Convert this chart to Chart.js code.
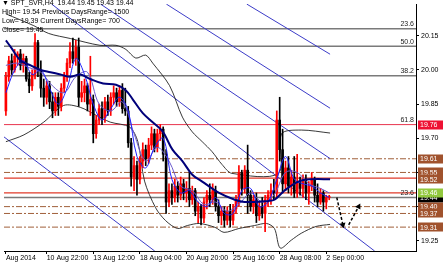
<!DOCTYPE html>
<html><head><meta charset="utf-8">
<script src="https://cdn.jsdelivr.net/npm/chart.js@4.4.0/dist/chart.umd.min.js"></script>
<style>html,body{margin:0;padding:0;background:#fff;}#wrap{width:444px;height:265px;position:relative;}</style>
</head><body><div id="wrap"><canvas id="c"></canvas></div>
<script>
// ---- candle data (H4) ----
const opens  = [19.82,19.97,20.04,20.00,20.06,20.07,20.02,20.05,19.96,19.93,19.98,20.12,20.00,19.92,19.88,19.93,19.86,19.82,19.88,19.84,
19.92,19.97,20.03,20.08,20.05,20.10,19.88,19.90,19.93,19.85,19.87,19.72,19.78,19.83,19.79,19.86,19.82,19.88,19.90,19.86,
19.91,19.83,19.82,19.68,19.53,19.58,19.52,19.60,19.65,19.61,19.67,19.72,19.66,19.72,19.74,19.63,19.42,19.47,19.44,19.49,
19.45,19.50,19.46,19.48,19.43,19.47,19.38,19.40,19.35,19.42,19.45,19.43,19.47,19.40,19.36,19.38,19.34,19.38,19.34,19.39,
19.43,19.55,19.48,19.56,19.45,19.40,19.43,19.36,19.40,19.37,19.43,19.45,19.47,19.46,19.78,19.65,19.50,19.57,19.49,19.53,
19.46,19.51,19.48,19.52,19.46,19.49,19.52,19.45,19.42,19.46,19.42,19.44];
const highs  = [19.99,20.06,20.07,20.09,20.08,20.09,20.07,20.06,19.99,20.00,20.16,20.13,20.04,19.96,19.95,19.95,19.90,19.90,19.90,19.94,
19.99,20.05,20.12,20.14,20.13,20.14,19.95,19.96,19.94,20.06,19.89,19.80,19.85,19.86,19.88,19.89,19.90,19.93,19.92,19.93,
19.94,19.92,19.84,19.70,19.62,19.60,19.62,19.68,19.67,19.70,19.75,19.74,19.74,19.76,19.75,19.65,19.50,19.50,19.52,19.51,
19.53,19.52,19.51,19.55,19.49,19.48,19.42,19.41,19.44,19.47,19.50,19.50,19.49,19.43,19.40,19.40,19.40,19.41,19.41,19.45,
19.58,19.56,19.58,19.67,19.47,19.45,19.46,19.42,19.44,19.45,19.47,19.50,19.52,19.82,19.88,19.74,19.60,19.62,19.56,19.62,
19.63,19.53,19.54,19.54,19.51,19.55,19.53,19.50,19.48,19.47,19.45,19.45];
const lows   = [19.80,19.95,19.98,19.99,20.02,20.00,19.99,19.95,19.90,19.91,19.96,19.97,19.88,19.84,19.85,19.83,19.79,19.80,19.80,19.82,
19.90,19.95,20.01,20.03,20.02,19.84,19.86,19.86,19.82,19.80,19.68,19.70,19.76,19.76,19.77,19.80,19.80,19.85,19.84,19.84,
19.81,19.80,19.66,19.49,19.47,19.45,19.50,19.57,19.58,19.59,19.65,19.64,19.64,19.69,19.60,19.37,19.40,19.41,19.42,19.42,
19.43,19.43,19.42,19.40,19.41,19.36,19.33,19.32,19.33,19.39,19.40,19.41,19.38,19.33,19.32,19.31,19.32,19.31,19.32,19.37,
19.40,19.45,19.46,19.37,19.38,19.37,19.33,19.34,19.35,19.29,19.40,19.41,19.43,19.44,19.60,19.46,19.47,19.46,19.45,19.44,
19.44,19.45,19.44,19.43,19.41,19.47,19.42,19.40,19.41,19.38,19.39,19.43];
const closes = [19.97,20.04,20.00,20.06,20.07,20.02,20.05,19.96,19.93,19.98,20.12,20.00,19.92,19.88,19.93,19.86,19.82,19.88,19.84,19.92,
19.97,20.03,20.08,20.05,20.10,19.88,19.90,19.93,19.85,19.87,19.72,19.78,19.83,19.79,19.86,19.82,19.88,19.90,19.86,19.91,
19.83,19.82,19.68,19.53,19.58,19.52,19.60,19.65,19.61,19.67,19.72,19.66,19.72,19.74,19.63,19.42,19.47,19.44,19.49,19.45,
19.50,19.46,19.48,19.43,19.47,19.38,19.40,19.35,19.42,19.45,19.43,19.47,19.40,19.36,19.38,19.34,19.38,19.34,19.39,19.43,
19.55,19.48,19.56,19.45,19.40,19.43,19.36,19.40,19.37,19.43,19.45,19.47,19.46,19.78,19.65,19.50,19.57,19.49,19.53,19.46,
19.51,19.48,19.52,19.46,19.49,19.52,19.45,19.42,19.46,19.42,19.44,19.44];

// ---- axis ticks ----
const xTickIdx    = [0, 14, 30, 46, 62, 78, 94, 110];
const xTickLabels = ["Aug 2014","10 Aug 22:00","13 Aug 12:00","18 Aug 04:00","20 Aug 20:00","25 Aug 16:00","28 Aug 08:00","2 Sep 00:00"];
const yTickValues = [19.25, 19.40, 19.55, 19.70, 19.85, 20.00, 20.15];

// ---- indicators: [barIndex, price] ----
const slowMA = [[0,20.13],[1.7,20.10],[5.1,20.04],[8.5,20.02],[11.9,20.00],[15.3,19.99],[18.7,19.98],[22.1,19.97],[25.5,19.98],[29,19.96],
[33.4,19.94],[37.8,19.935],[41.2,19.91],[43.6,19.87],[47,19.81],[50.4,19.77],[53.8,19.73],[57.2,19.65],[60.6,19.60],[64,19.54],
[67.4,19.51],[73.2,19.46],[78.6,19.43],[82,19.42],[90.2,19.425],[92.2,19.43],[95.6,19.47],[100.4,19.51],[104.8,19.52],[111.3,19.52]];
const fastMA = [[0,19.90],[3,20.00],[6,20.04],[9,19.98],[12,20.00],[15,19.92],[18,19.85],[21,19.92],[24,20.05],[27,19.98],
[30,19.85],[33,19.78],[36,19.83],[39,19.88],[42,19.82],[45,19.62],[48,19.57],[51,19.66],[54,19.70],[57,19.52],[60,19.46],
[63,19.47],[66,19.42],[69,19.40],[72,19.44],[75,19.37],[78,19.37],[81,19.47],[84,19.48],[87,19.40],[90,19.42],[93,19.52],
[96,19.62],[99,19.52],[102,19.50],[105,19.49],[108,19.46],[111,19.44]];
const midMA = [[0,20.02],[4,20.03],[8,20.01],[12,19.99],[16,19.93],[20,19.90],[24,19.97],[28,19.99],[32,19.85],[36,19.82],
[40,19.86],[44,19.72],[48,19.60],[52,19.66],[56,19.60],[60,19.49],[64,19.47],[68,19.41],[72,19.42],[76,19.38],[80,19.41],
[84,19.46],[88,19.42],[92,19.45],[96,19.55],[100,19.55],[104,19.50],[108,19.48],[111,19.46]];
const bbUpper = [[0,20.246],[9.6,20.194],[14.7,20.16],[22.1,20.138],[32.3,20.108],[37.8,20.108],[41.2,20.09],[44.6,20.052],[48,20.065],
[50.4,20.03],[56.2,19.931],[60.6,19.793],[64,19.728],[67.4,19.685],[70.8,19.641],[74.2,19.585],[77.6,19.546],[93.6,19.546],
[94.6,19.719],[101.4,19.736],[111.3,19.723]];
const bbLower = [[0,19.685],[6.2,19.715],[13,19.771],[19.8,19.844],[25.5,19.836],[31,19.801],[35.8,19.771],[42.5,19.749],[45.3,19.685],
[47.6,19.512],[51.4,19.395],[54.8,19.339],[58.9,19.304],[62.3,19.317],[66.4,19.326],[71.8,19.309],[74.9,19.287],[80,19.304],
[85.4,19.317],[89.5,19.326],[92.2,19.304],[94.2,19.218],[98,19.253],[101.4,19.283],[106.5,19.313],[111.3,19.322]];
const trendLines = [
  [[82.7,20.289],[111.3,20.069]],
  [[55.1,20.289],[111.3,19.832]],
  [[32.5,20.289],[111.3,19.611]],
  [[15.7,20.289],[126.6,19.205]],
  [[-0.65,19.706],[51.1,19.205]]
];
const arrowPaths = [[[113.6,19.44],[115.7,19.32]], [[117.7,19.32],[121.1,19.40]]];
const arrowRot = [167, 29];

// ---- levels ----
const fibLevels   = [20.181, 20.104, 19.975, 19.76, 19.44];
const fibTags     = ["23.6", "50.0", "38.2", "61.8", "23.6"];
const fibColors   = ["#7a7a7a","#7a7a7a","#7a7a7a","#e8344e","#7a7a7a"];
const dashLevels  = [19.61, 19.55, 19.40, 19.37, 19.31];
const redLevels   = [19.525, 19.46];
const boxValues   = [19.76, 19.61, 19.55, 19.52, 19.44, 19.46, 19.40, 19.37, 19.31];
const boxColors   = ["#ee1133","#a0522d","#a0522d","#a0522d","#000000","#92c83e","#a0522d","#a0522d","#a0522d"];
const headerLines = ["\u25BC SPT_SVR,H4  19.44 19.45 19.43 19.44","High= 19.54 Previous DaysRange= 1500","Low= 19.39 Current DaysRange= 700","Close= 19.45"];

const X_MIN = -0.65, X_MAX = 140.8, Y_MIN = 19.2052, Y_MAX = 20.2894;
const FONT = '"Liberation Sans", Arial, sans-serif';

const bull = i => closes[i] >= opens[i];
const candleColor = ctx => bull(ctx.dataIndex) ? '#ff0000' : '#000000';
const pairs = arr => arr.map(([x,y]) => ({x, y}));

const datasets = [];
// MAs on top
datasets.push({type:'line', data:pairs(slowMA), borderColor:'#00007a', borderWidth:2, pointRadius:0, tension:0.35, order:5});
datasets.push({type:'line', data:pairs(fastMA), borderColor:'#2020ff', borderWidth:1, pointRadius:0, tension:0.35, order:6});
datasets.push({type:'line', data:pairs(midMA), borderColor:'#6a5acd', borderWidth:1, pointRadius:0, tension:0.35, order:7});
// candles
datasets.push({type:'bar', data:highs.map((h,i)=>({x:i, y:[lows[i], h]})), backgroundColor:candleColor, barThickness:1, grouped:false, order:21});
datasets.push({type:'bar', data:opens.map((o,i)=>({x:i, y:[Math.min(o,closes[i]), Math.max(o,closes[i])]})), backgroundColor:candleColor, barThickness:2, minBarLength:1, grouped:false, order:20});
// bollinger
datasets.push({type:'line', data:pairs(bbUpper), borderColor:'#222', borderWidth:0.9, pointRadius:0, tension:0.3, order:30});
datasets.push({type:'line', data:pairs(bbLower), borderColor:'#222', borderWidth:0.9, pointRadius:0, tension:0.3, order:30});
// trend lines
trendLines.forEach(l => datasets.push({type:'line', data:pairs(l), borderColor:'#3c3cc8', borderWidth:1, pointRadius:0, order:40}));
// levels
fibLevels.forEach((v,k) => datasets.push({type:'line', data:[{x:X_MIN,y:v},{x:X_MAX,y:v}], borderColor:fibColors[k], borderWidth:k===3?1:1.5, pointRadius:0, order:50}));
dashLevels.forEach(v => datasets.push({type:'line', data:[{x:X_MIN,y:v},{x:X_MAX,y:v}], borderColor:'#a0603a', borderWidth:1, borderDash:[6,2,2,2], pointRadius:0, order:52}));
redLevels.forEach(v => datasets.push({type:'line', data:[{x:X_MIN,y:v},{x:X_MAX,y:v}], borderColor:'#e03a2a', borderWidth:1.2, pointRadius:0, order:51}));
// arrows
arrowPaths.forEach((p,k) => datasets.push({type:'line', data:pairs(p), borderColor:'#000', borderWidth:1.5, borderDash:[3,2],
  pointRadius:[0,3.5], pointStyle:'triangle', pointRotation:[0,arrowRot[k]], pointBackgroundColor:'#000', pointBorderColor:'#000', pointBorderWidth:0, order:1}));

const overlay = {
  id:'overlay',
  afterDatasetsDraw(chart){
    const {ctx, scales:{y}, chartArea} = chart;
    ctx.save();
    ctx.font = '7px ' + FONT;
    ctx.fillStyle = '#222'; ctx.textAlign = 'right'; ctx.textBaseline = 'bottom';
    fibLevels.forEach((v,k) => ctx.fillText(fibTags[k], chartArea.right - 2, y.getPixelForValue(v) - 1));
    ctx.fillStyle = '#000'; ctx.textAlign = 'left'; ctx.textBaseline = 'top';
    headerLines.forEach((t,k) => ctx.fillText(t, 2, k*9));
    ctx.restore();
  },
  afterDraw(chart){
    const {ctx, scales:{y}, chartArea} = chart;
    ctx.save();
    ctx.font = '7px ' + FONT;
    ctx.textAlign = 'left'; ctx.textBaseline = 'middle';
    boxValues.forEach((v,k) => {
      const py = y.getPixelForValue(v);
      ctx.fillStyle = boxColors[k];
      ctx.fillRect(chartArea.right + 2, Math.round(py) - 4.5, 25, 9);
      ctx.fillStyle = '#fff';
      ctx.fillText(v.toFixed(2), chartArea.right + 4, py + 0.5);
    });
    ctx.restore();
  }
};

new Chart(document.getElementById('c'), {
  type:'bar',
  data:{datasets},
  options:{
    responsive:true, maintainAspectRatio:false, animation:false,
    layout:{padding:0},
    plugins:{legend:{display:false}, tooltip:{enabled:false}},
    events:[],
    scales:{
      x:{type:'linear', min:X_MIN, max:X_MAX, offset:false,
        grid:{display:true, drawOnChartArea:false, drawTicks:true, tickLength:3, color:'#000', offset:false},
        border:{display:true, color:'#000', width:1},
        ticks:{autoSkip:false, maxRotation:0, minRotation:0, align:'start', padding:0, color:'#000', font:{size:7, family:FONT},
          callback:(v) => { const k = xTickIdx.indexOf(v); return k >= 0 ? xTickLabels[k] : ''; }},
        afterBuildTicks:(s) => { s.ticks = xTickIdx.map(v => ({value:v})); },
        afterFit:(s) => { s.height = 14; s.paddingLeft = 0; s.paddingRight = 0; }
      },
      y:{type:'linear', position:'right', min:Y_MIN, max:Y_MAX,
        grid:{display:true, drawOnChartArea:false, drawTicks:true, tickLength:3, color:'#000'},
        border:{display:true, color:'#000', width:1},
        ticks:{autoSkip:false, padding:2, color:'#000', font:{size:7, family:FONT}, callback:(v) => Number(v).toFixed(2)},
        afterBuildTicks:(s) => { s.ticks = yTickValues.map(v => ({value:v})); },
        afterFit:(s) => { s.width = 28; s.paddingTop = 0; s.paddingBottom = 0; }
      }
    }
  },
  plugins:[overlay]
});
</script>
</body></html>
